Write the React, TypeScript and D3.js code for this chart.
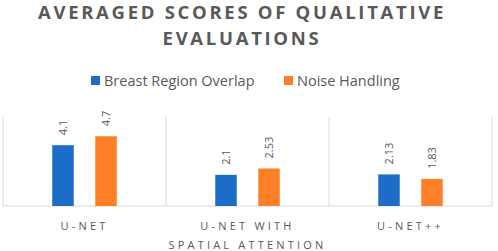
import React from "react";
import * as d3 from "d3";

const categories = ["U-NET", "U-NET WITH SPATIAL ATTENTION", "U-NET++"];
const categoryLines = [["U-NET"], ["U-NET WITH", "SPATIAL ATTENTION"], ["U-NET++"]];
const seriesNames = ["Breast Region Overlap", "Noise Handling"];
const breastRegionOverlap = [4.1, 2.1, 2.13];
const noiseHandling = [4.7, 2.53, 1.83];
const valueLabels = [["4.1", "2.1", "2.13"], ["4.7", "2.53", "1.83"]];
const colors = ["#1C6DC8", "#FF7F27"];

export default function App() {
  const W = 498, H = 251;
  const left = 3, right = 492, top = 117, base = 206;
  const x = d3.scaleBand<string>().domain(categories).range([left, right]).padding(0);
  const inner = d3.scaleBand<string>().domain(seriesNames).range([0, x.bandwidth()]).paddingInner(0.5).paddingOuter(1.145);
  const y = d3.scaleLinear().domain([0, 6]).range([base, top]);
  const series = [breastRegionOverlap, noiseHandling];
  const textColor = "#595959";
  const font = "'Open Sans', 'Liberation Sans', sans-serif";
  return (
    <svg width={W} height={H} style={{ position: "absolute", left: 0, top: 0 }} fontFamily={font}>
      <rect width={W} height={H} fill="#fff" />
      <text x={242} y={18.5} textAnchor="middle" fontSize={18.5} fontWeight={700} fill={textColor} letterSpacing={2.7}>
        AVERAGED SCORES OF QUALITATIVE
      </text>
      <text x={242} y={45} textAnchor="middle" fontSize={18.5} fontWeight={700} fill={textColor} letterSpacing={2.7}>
        EVALUATIONS
      </text>
      {/* legend */}
      <rect x={91} y={76} width={9} height={9} fill={colors[0]} />
      <text x={104} y={85.5} fontSize={14.5} fill={textColor}>{seriesNames[0]}</text>
      <rect x={284} y={76} width={9} height={9} fill={colors[1]} />
      <text x={297} y={85.5} fontSize={14.5} fill={textColor}>{seriesNames[1]}</text>
      {/* separators */}
      {[...categories.map((c) => x(c)!), right].map((v, i) => (
        <line key={i} x1={v} x2={v} y1={top} y2={base} stroke="#D9D9D9" strokeWidth={1} />
      ))}
      <line x1={left} x2={right} y1={base} y2={base} stroke="#D9D9D9" strokeWidth={1} />
      {series.map((vals, si) =>
        categories.map((c, ci) => {
          const bx = x(c)! + inner(seriesNames[si])!;
          const bw = inner.bandwidth();
          const yy = y(vals[ci]);
          return (
            <g key={`${si}-${ci}`}>
              <rect x={bx} y={yy} width={bw} height={base - yy} fill={colors[si]} />
              <text
                transform={`translate(${bx + bw / 2 + 4},${yy - 10}) rotate(-90)`}
                fontSize={11}
                fill={textColor}
              >
                {valueLabels[si][ci]}
              </text>
            </g>
          );
        })
      )}
      {categories.map((c, ci) =>
        categoryLines[ci].map((ln, li) => (
          <text
            key={`${ci}-${li}`}
            x={x(c)! + x.bandwidth() / 2}
            y={230 + li * 19}
            textAnchor="middle"
            fontSize={11}
            fill={textColor}
            letterSpacing={3.2}
          >
            {ln}
          </text>
        ))
      )}
    </svg>
  );
}
